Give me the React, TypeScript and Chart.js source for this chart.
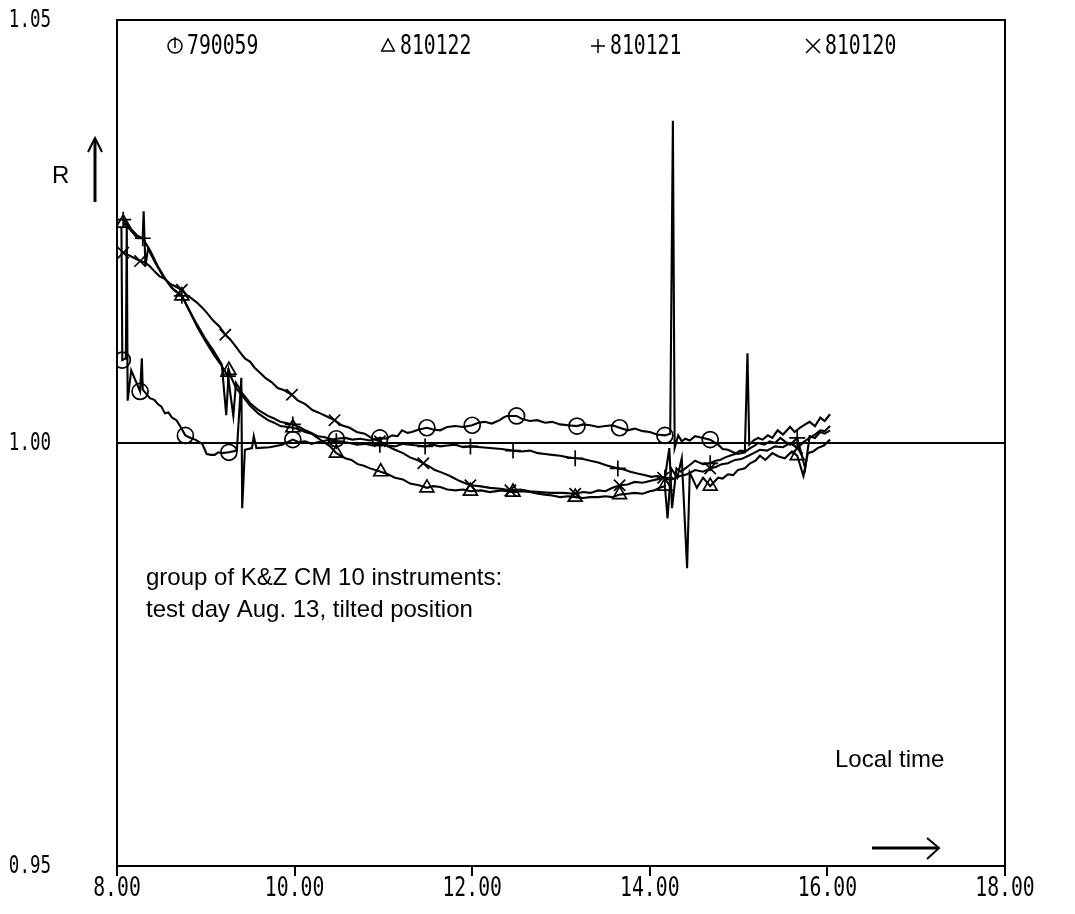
import { useEffect, useRef } from "react";
import { Chart, registerables } from "chart.js";

Chart.register(...registerables);

// Axis ticks
const timeTicks = [8, 10, 12, 14, 16, 18];
const ratioTicks = [0.95, 1.0, 1.05];

// Instrument series: [local time (h), R]
const series790059: [number, number][] = [
  [8.05, 1.0254], [8.06, 1.0098], [8.10, 1.0100], [8.11, 1.0258], [8.12, 1.0050], [8.16, 1.0086],
  [8.26, 1.0061], [8.28, 1.0100], [8.29, 1.0063], [8.37, 1.0053], [8.42, 1.0051], [8.46, 1.0046],
  [8.50, 1.0043], [8.54, 1.0035], [8.58, 1.0036], [8.62, 1.0030], [8.67, 1.0027], [8.71, 1.0020],
  [8.77, 1.0009], [8.83, 1.0006], [8.88, 1.0004], [8.96, 0.9999], [9.01, 0.9987], [9.06, 0.9986],
  [9.10, 0.9986], [9.14, 0.9989], [9.18, 0.9988], [9.26, 0.9989], [9.35, 0.9991], [9.40, 1.0077],
  [9.41, 0.9923], [9.44, 0.9992], [9.52, 0.9994], [9.54, 1.0008], [9.57, 0.9994], [9.72, 0.9995],
  [9.86, 0.9998], [9.98, 1.0004], [10.05, 1.0001], [10.12, 1.0002], [10.19, 0.9999], [10.26, 1.0001],
  [10.35, 1.0003], [10.47, 1.0005], [10.57, 1.0006], [10.65, 1.0004], [10.74, 1.0005], [10.85, 1.0003],
  [10.96, 1.0006], [11.03, 1.0005], [11.10, 1.0009], [11.16, 1.0008], [11.21, 1.0015], [11.27, 1.0012],
  [11.32, 1.0013], [11.40, 1.0016], [11.49, 1.0018], [11.56, 1.0016], [11.64, 1.0015], [11.72, 1.0019],
  [11.81, 1.0020], [11.90, 1.0019], [12.00, 1.0021], [12.07, 1.0024], [12.14, 1.0025], [12.22, 1.0023],
  [12.31, 1.0027], [12.35, 1.0030], [12.39, 1.0032], [12.50, 1.0032], [12.57, 1.0028], [12.65, 1.0026],
  [12.73, 1.0027], [12.82, 1.0024], [12.90, 1.0025], [12.99, 1.0022], [13.08, 1.0021], [13.18, 1.0020],
  [13.25, 1.0022], [13.33, 1.0021], [13.42, 1.0019], [13.50, 1.0020], [13.58, 1.0021], [13.66, 1.0018],
  [13.75, 1.0015], [13.83, 1.0017], [13.92, 1.0014], [14.00, 1.0013], [14.08, 1.0010], [14.17, 1.0009],
  [14.23, 1.0011], [14.26, 1.0381], [14.28, 0.9994], [14.32, 1.0009], [14.36, 1.0002], [14.40, 1.0005],
  [14.45, 1.0003], [14.51, 1.0008], [14.60, 1.0006], [14.68, 1.0004], [14.77, 0.9998], [14.82, 0.9993],
  [14.88, 0.9992], [14.94, 0.9989], [14.99, 0.9987], [15.07, 0.9989], [15.10, 1.0106], [15.12, 0.9998],
  [15.17, 1.0003], [15.22, 1.0006], [15.27, 1.0004], [15.33, 1.0009], [15.38, 1.0006], [15.44, 1.0015],
  [15.50, 1.0010], [15.58, 1.0019], [15.63, 1.0013], [15.69, 1.0018], [15.75, 1.0022], [15.80, 1.0025],
  [15.86, 1.0020], [15.92, 1.0030], [15.97, 1.0026], [16.03, 1.0034],
];
const marks790059 = [8.06, 8.26, 8.77, 9.26, 9.98, 10.47, 10.96, 11.49, 12.0, 12.5, 13.18, 13.66, 14.17, 14.68];

const series810122: [number, number][] = [
  [8.07, 1.0260], [8.15, 1.0252], [8.23, 1.0242], [8.29, 1.0242], [8.30, 1.0274], [8.32, 1.0209],
  [8.35, 1.0230], [8.43, 1.0213], [8.52, 1.0197], [8.62, 1.0183], [8.73, 1.0174], [8.80, 1.0160],
  [8.89, 1.0142], [8.99, 1.0124], [9.08, 1.0110], [9.18, 1.0093], [9.23, 1.0033], [9.26, 1.0086],
  [9.28, 1.0079], [9.34, 1.0065], [9.41, 1.0056], [9.50, 1.0044], [9.59, 1.0035], [9.70, 1.0027],
  [9.77, 1.0024], [9.84, 1.0020], [9.98, 1.0018], [10.05, 1.0016], [10.12, 1.0013], [10.19, 1.0011],
  [10.26, 1.0006], [10.33, 1.0001], [10.40, 0.9996], [10.47, 0.9988], [10.57, 0.9982], [10.64, 0.9980],
  [10.71, 0.9975], [10.78, 0.9973], [10.85, 0.9970], [10.97, 0.9966], [11.05, 0.9963], [11.13, 0.9959],
  [11.22, 0.9957], [11.30, 0.9952], [11.40, 0.9950], [11.49, 0.9947], [11.56, 0.9949], [11.64, 0.9948],
  [11.72, 0.9945], [11.81, 0.9944], [11.90, 0.9945], [11.98, 0.9943], [12.10, 0.9944], [12.20, 0.9942],
  [12.33, 0.9944], [12.46, 0.9942], [12.55, 0.9943], [12.65, 0.9942], [12.74, 0.9940], [12.82, 0.9939],
  [12.90, 0.9938], [12.99, 0.9936], [13.08, 0.9937], [13.16, 0.9936], [13.25, 0.9935], [13.33, 0.9936],
  [13.42, 0.9936], [13.50, 0.9937], [13.58, 0.9936], [13.66, 0.9939], [13.75, 0.9940], [13.83, 0.9941],
  [13.92, 0.9940], [14.00, 0.9943], [14.05, 0.9944], [14.11, 0.9947], [14.17, 0.9949], [14.20, 0.9911],
  [14.24, 0.9970], [14.31, 0.9959], [14.36, 0.9982], [14.42, 0.9852], [14.45, 0.9965], [14.53, 0.9947],
  [14.60, 0.9959], [14.68, 0.9949], [14.77, 0.9959], [14.82, 0.9958], [14.88, 0.9963], [14.94, 0.9962],
  [14.99, 0.9968], [15.07, 0.9970], [15.13, 0.9976], [15.19, 0.9979], [15.24, 0.9985], [15.30, 0.9980],
  [15.38, 0.9988], [15.45, 0.9984], [15.52, 0.9982], [15.60, 0.9990], [15.66, 0.9985], [15.73, 0.9961],
  [15.78, 0.9988], [15.84, 0.9990], [15.89, 0.9994], [15.96, 0.9997], [16.03, 1.0004],
];
const marks810122 = [8.07, 8.73, 9.26, 9.98, 10.47, 10.97, 11.49, 11.98, 12.46, 13.16, 13.66, 14.17, 14.68, 15.66];

const series810121: [number, number][] = [
  [8.07, 1.0264], [8.15, 1.0254], [8.23, 1.0245], [8.29, 1.0242], [8.37, 1.0228], [8.46, 1.0209],
  [8.55, 1.0193], [8.64, 1.0181], [8.73, 1.0174], [8.82, 1.0155], [8.91, 1.0136], [9.01, 1.0118],
  [9.10, 1.0103], [9.18, 1.0091], [9.25, 1.0079], [9.31, 1.0032], [9.34, 1.0071], [9.41, 1.0059],
  [9.50, 1.0047], [9.59, 1.0039], [9.70, 1.0032], [9.77, 1.0029], [9.84, 1.0025], [9.98, 1.0022],
  [10.05, 1.0019], [10.12, 1.0015], [10.19, 1.0012], [10.26, 1.0008], [10.33, 1.0007], [10.40, 1.0005],
  [10.47, 1.0002], [10.55, 1.0001], [10.62, 1.0000], [10.70, 0.9998], [10.79, 0.9999], [10.88, 0.9997],
  [10.96, 0.9998], [11.05, 0.9997], [11.13, 0.9996], [11.22, 0.9999], [11.30, 0.9998], [11.38, 0.9997],
  [11.47, 0.9996], [11.55, 0.9998], [11.64, 0.9996], [11.72, 0.9997], [11.81, 0.9998], [11.90, 0.9995],
  [11.98, 0.9996], [12.10, 0.9995], [12.20, 0.9994], [12.33, 0.9993], [12.46, 0.9991], [12.55, 0.9990],
  [12.65, 0.9991], [12.74, 0.9988], [12.82, 0.9987], [12.90, 0.9986], [12.99, 0.9985], [13.08, 0.9983],
  [13.16, 0.9982], [13.25, 0.9981], [13.33, 0.9979], [13.42, 0.9977], [13.50, 0.9974], [13.57, 0.9972],
  [13.64, 0.9970], [13.70, 0.9969], [13.78, 0.9966], [13.86, 0.9964], [13.95, 0.9962], [14.02, 0.9960],
  [14.08, 0.9961], [14.17, 0.9959], [14.22, 0.9994], [14.25, 0.9923], [14.30, 0.9970], [14.35, 0.9966],
  [14.40, 0.9970], [14.45, 0.9974], [14.51, 0.9979], [14.60, 0.9975], [14.68, 0.9976], [14.74, 0.9979],
  [14.79, 0.9980], [14.85, 0.9983], [14.90, 0.9985], [14.96, 0.9987], [15.02, 0.9991], [15.08, 0.9990],
  [15.13, 0.9994], [15.18, 0.9997], [15.22, 1.0000], [15.29, 0.9998], [15.35, 1.0002], [15.41, 1.0000],
  [15.47, 1.0006], [15.52, 1.0002], [15.58, 0.9998], [15.66, 1.0006], [15.75, 0.9970], [15.80, 1.0008],
  [15.86, 1.0006], [15.92, 1.0013], [15.97, 1.0011], [16.03, 1.0015],
];
const marks810121 = [8.07, 8.29, 8.73, 9.25, 9.98, 10.47, 10.96, 11.47, 11.98, 12.46, 13.16, 13.64, 14.17, 14.68, 15.66];

const series810120: [number, number][] = [
  [8.07, 1.0225], [8.15, 1.0221], [8.26, 1.0215], [8.32, 1.0213], [8.37, 1.0209], [8.43, 1.0202],
  [8.48, 1.0197], [8.54, 1.0194], [8.60, 1.0188], [8.66, 1.0185], [8.73, 1.0181], [8.78, 1.0175],
  [8.84, 1.0171], [8.90, 1.0166], [8.96, 1.0160], [9.02, 1.0153], [9.08, 1.0145], [9.15, 1.0138],
  [9.22, 1.0128], [9.27, 1.0123], [9.33, 1.0115], [9.38, 1.0108], [9.44, 1.0100], [9.50, 1.0096],
  [9.55, 1.0089], [9.61, 1.0083], [9.67, 1.0077], [9.74, 1.0072], [9.81, 1.0065], [9.89, 1.0062],
  [9.97, 1.0057], [10.04, 1.0050], [10.12, 1.0046], [10.20, 1.0039], [10.29, 1.0035], [10.37, 1.0031],
  [10.45, 1.0027], [10.53, 1.0021], [10.62, 1.0018], [10.70, 1.0013], [10.79, 1.0011], [10.88, 1.0005],
  [10.96, 1.0002], [11.05, 0.9996], [11.13, 0.9992], [11.22, 0.9988], [11.30, 0.9983], [11.38, 0.9980],
  [11.45, 0.9976], [11.52, 0.9972], [11.58, 0.9968], [11.66, 0.9965], [11.75, 0.9961], [11.86, 0.9955],
  [11.98, 0.9950], [12.08, 0.9949], [12.20, 0.9947], [12.32, 0.9946], [12.43, 0.9944], [12.54, 0.9945],
  [12.65, 0.9943], [12.76, 0.9942], [12.88, 0.9941], [13.02, 0.9941], [13.16, 0.9940], [13.25, 0.9942],
  [13.33, 0.9941], [13.42, 0.9944], [13.50, 0.9943], [13.58, 0.9947], [13.66, 0.9950], [13.75, 0.9951],
  [13.83, 0.9954], [13.92, 0.9953], [14.00, 0.9955], [14.08, 0.9957], [14.15, 0.9959], [14.23, 0.9956],
  [14.34, 0.9961], [14.42, 0.9963], [14.51, 0.9968], [14.60, 0.9966], [14.68, 0.9970], [14.75, 0.9972],
  [14.81, 0.9975], [14.88, 0.9976], [14.96, 0.9980], [15.03, 0.9981], [15.11, 0.9985], [15.17, 0.9988],
  [15.24, 0.9992], [15.32, 0.9991], [15.41, 0.9996], [15.50, 0.9995], [15.58, 1.0000], [15.66, 0.9994],
  [15.73, 1.0001], [15.80, 1.0006], [15.86, 1.0010], [15.92, 1.0015], [15.97, 1.0014], [16.03, 1.0020],
];
const marks810120 = [8.07, 8.26, 8.73, 9.22, 9.97, 10.45, 10.96, 11.45, 11.98, 12.43, 13.16, 13.66, 14.15, 14.68, 15.66];

// Reference level R = 1
const unityLine: [number, number][] = [[8, 1.0], [18, 1.0]];

const plotterFont = '"DejaVu Sans Mono", monospace';
const textFont = '"Liberation Sans", Arial, sans-serif';

function toPoints(series: [number, number][]) {
  return series.map(([x, y]) => ({ x, y }));
}

function markerRadii(series: [number, number][], marks: number[], r: number) {
  return series.map(([x]) => (marks.some((m) => Math.abs(m - x) < 0.004) ? r : 0));
}

// Tall, narrow lettering in the style of a pen plotter
function plotterText(
  ctx: CanvasRenderingContext2D,
  text: string,
  x: number,
  y: number,
  size: number,
  align: CanvasTextAlign,
  squeeze = 0.76
) {
  ctx.save();
  ctx.translate(x, y);
  ctx.scale(squeeze, 1);
  ctx.font = `${size}px ${plotterFont}`;
  ctx.textAlign = align;
  ctx.textBaseline = "middle";
  ctx.fillStyle = "#000";
  ctx.fillText(text, 0, 0);
  ctx.restore();
}

function drawSymbol(ctx: CanvasRenderingContext2D, kind: string, x: number, y: number, r: number) {
  ctx.beginPath();
  if (kind === "circle") {
    ctx.arc(x, y, r, 0, Math.PI * 2);
    ctx.moveTo(x, y - r - 2);
    ctx.lineTo(x, y + 2);
  } else if (kind === "triangle") {
    ctx.moveTo(x, y - r);
    ctx.lineTo(x + r * 0.9, y + r * 0.7);
    ctx.lineTo(x - r * 0.9, y + r * 0.7);
    ctx.closePath();
  } else if (kind === "cross") {
    ctx.moveTo(x - r, y);
    ctx.lineTo(x + r, y);
    ctx.moveTo(x, y - r);
    ctx.lineTo(x, y + r);
  } else {
    ctx.moveTo(x - r, y - r);
    ctx.lineTo(x + r, y + r);
    ctx.moveTo(x + r, y - r);
    ctx.lineTo(x - r, y + r);
  }
  ctx.stroke();
}

const legendItems = [
  { name: "790059", kind: "circle", x: 167 },
  { name: "810122", kind: "triangle", x: 380 },
  { name: "810121", kind: "cross", x: 590 },
  { name: "810120", kind: "crossRot", x: 805 },
];

const framePlugin = {
  id: "frame",
  afterDatasetsDraw(chart: any) {
    const { ctx, chartArea } = chart;
    ctx.save();
    ctx.strokeStyle = "#000";
    ctx.lineWidth = 2;
    ctx.strokeRect(chartArea.left, chartArea.top, chartArea.right - chartArea.left, chartArea.bottom - chartArea.top);
    ctx.restore();
  },
};

// Tick labels placed through the chart's own scales
const tickLabelPlugin = {
  id: "tickLabels",
  afterDraw(chart: any) {
    const { ctx, chartArea, scales } = chart;
    for (const v of timeTicks) {
      plotterText(ctx, v.toFixed(2), scales.x.getPixelForValue(v), chartArea.bottom + 23, 26, "center");
    }
    for (const v of ratioTicks) {
      plotterText(ctx, v.toFixed(2), 43, scales.y.getPixelForValue(v), 25, "right", 0.7);
    }
  },
};

const legendPlugin = {
  id: "insideLegend",
  afterDraw(chart: any) {
    const { ctx, chartArea } = chart;
    const y = chartArea.top + 26;
    ctx.save();
    ctx.strokeStyle = "#000";
    ctx.lineWidth = 1.5;
    for (const item of legendItems) {
      drawSymbol(ctx, item.kind, item.x, y, 7);
      plotterText(ctx, item.name, item.x + 12, y + 1, 26, "left");
    }
    ctx.restore();
  },
};

const notesPlugin = {
  id: "notes",
  afterDraw(chart: any) {
    const { ctx } = chart;
    ctx.save();
    ctx.fillStyle = "#000";
    ctx.strokeStyle = "#000";
    ctx.font = `24px ${textFont}`;
    ctx.textBaseline = "middle";
    ctx.textAlign = "left";
    ctx.fillText("group of K&Z CM 10 instruments:", 138, 570);
    ctx.fillText("test day Aug. 13, tilted position", 138, 602);
    ctx.fillText("Local time", 827, 752);
    ctx.fillText("R", 44, 168);

    // axis direction arrows
    ctx.lineWidth = 3;
    ctx.beginPath();
    ctx.moveTo(864, 840);
    ctx.lineTo(929, 840);
    ctx.stroke();
    ctx.lineWidth = 2;
    ctx.beginPath();
    ctx.moveTo(919, 830);
    ctx.lineTo(931, 840);
    ctx.lineTo(919, 851);
    ctx.stroke();

    ctx.lineWidth = 3;
    ctx.beginPath();
    ctx.moveTo(87, 194);
    ctx.lineTo(87, 132);
    ctx.stroke();
    ctx.lineWidth = 2;
    ctx.beginPath();
    ctx.moveTo(80, 144);
    ctx.lineTo(87, 130);
    ctx.lineTo(94, 144);
    ctx.stroke();
    ctx.restore();
  },
};

function lineDataset(label: string, series: [number, number][], marks: number[], style: string, r: number) {
  return {
    label,
    data: toPoints(series),
    borderColor: "#000",
    borderWidth: 2.1,
    pointStyle: style,
    pointRadius: markerRadii(series, marks, r),
    pointBorderColor: "#000",
    pointBackgroundColor: "rgba(0,0,0,0)",
    pointBorderWidth: 1.7,
    tension: 0,
    fill: false,
  };
}

export default function App() {
  const canvasRef = useRef<HTMLCanvasElement>(null);

  useEffect(() => {
    if (!canvasRef.current) return;
    const chart = new Chart(canvasRef.current, {
      type: "line",
      data: {
        datasets: [
          {
            label: "R = 1",
            data: toPoints(unityLine),
            borderColor: "#000",
            borderWidth: 2,
            pointRadius: 0,
            fill: false,
          },
          lineDataset("790059", series790059, marks790059, "circle", 8),
          lineDataset("810122", series810122, marks810122, "triangle", 8),
          lineDataset("810121", series810121, marks810121, "cross", 8),
          lineDataset("810120", series810120, marks810120, "crossRot", 8),
        ] as any,
      },
      options: {
        responsive: false,
        animation: false,
        layout: { padding: { top: 12, right: 62, left: 0, bottom: 0 } },
        plugins: {
          legend: { display: false },
          tooltip: { enabled: false },
        },
        scales: {
          x: {
            type: "linear",
            min: 8,
            max: 18,
            afterBuildTicks: (scale: any) => {
              scale.ticks = timeTicks.map((value) => ({ value }));
            },
            afterFit: (scale: any) => {
              scale.height = 40;
            },
            ticks: { display: false },
            grid: {
              display: true,
              drawOnChartArea: false,
              drawTicks: true,
              tickLength: 10,
              color: "#000",
              lineWidth: 2,
            },
            border: { display: false },
          },
          y: {
            type: "linear",
            min: 0.95,
            max: 1.05,
            afterBuildTicks: (scale: any) => {
              scale.ticks = ratioTicks.map((value) => ({ value }));
            },
            afterFit: (scale: any) => {
              scale.width = 109;
            },
            ticks: { display: false },
            grid: { display: false, drawTicks: false },
            border: { display: false },
          },
        },
      },
      plugins: [framePlugin, tickLabelPlugin, legendPlugin, notesPlugin],
    });
    return () => chart.destroy();
  }, []);

  return <canvas ref={canvasRef} width={1059} height={898} style={{ display: "block" }} />;
}
